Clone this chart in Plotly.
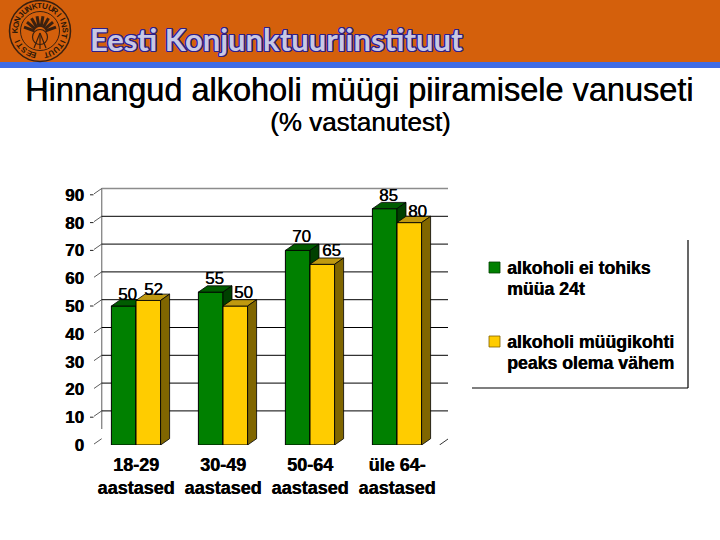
import math
import plotly.graph_objects as go

categories = ["18-29<br>aastased", "30-49<br>aastased", "50-64<br>aastased", "üle 64-<br>aastased"]
series_green = [50, 55, 70, 85]
series_yellow = [52, 50, 65, 80]
name_green = ["alkoholi ei tohiks", "müüa 24t"]
name_yellow = ["alkoholi müügikohti", "peaks olema vähem"]
y_ticks = [0, 10, 20, 30, 40, 50, 60, 70, 80, 90]
grid_values = [10, 20, 30, 40, 50, 60, 70, 80]
title_text = "Hinnangud alkoholi müügi piiramisele vanuseti"
subtitle_text = "(% vastanutest)"
header_text = "Eesti Konjunktuuriinstituut"
logo_text = "EESTI KONJUNKTUURIINSTITUUT"

W, H = 720, 540
X0, X1, Y0, Y1 = 90, 460, 445, 170      # plot box in px
PX_U, PX_C, C0 = 2.78, 87.0, 136.0      # px per value, px per category, first category px
BAR_W = 24.6 / PX_C
DX = 9.0 / PX_C
DY = 6.3 / PX_U
GREEN, GREEN_TOP, GREEN_SIDE = "#008000", "#005c00", "#004000"
YEL, YEL_TOP, YEL_SIDE = "#FFCC00", "#BF9910", "#806600"
FONT = "Liberation Sans"
EMB = "0.4px 0 0 #000"

xr = [(X0 - C0) / PX_C, (X1 - C0) / PX_C]
yr = [0, (Y0 - Y1) / PX_U]
xs = list(range(len(categories)))


def px(x):
    return x / W


def py(y):
    return 1 - y / H


def xval(p):
    return (p - C0) / PX_C


def faces(values, left, xa, ya, top, side):
    out = []
    for i, v in zip(xs, values):
        a, b = i + left, i + left + BAR_W
        out.append(go.Scatter(x=[a, a + DX, b + DX, b, a], y=[v, v + DY, v + DY, v, v],
                              fill="toself", fillcolor=top, mode="lines",
                              line=dict(color="#000", width=0.8), showlegend=False,
                              hoverinfo="skip", xaxis=xa, yaxis=ya))
        out.append(go.Scatter(x=[b, b + DX, b + DX, b, b], y=[0, DY, v + DY, v, 0],
                              fill="toself", fillcolor=side, mode="lines",
                              line=dict(color="#000", width=0.8), showlegend=False,
                              hoverinfo="skip", xaxis=xa, yaxis=ya))
    return out


fig = go.Figure()
fig.add_trace(go.Bar(x=xs, y=series_green, width=BAR_W, offset=-BAR_W, marker=dict(color=GREEN, line=dict(color="#000", width=1)),
                     name="green", showlegend=False))
for t in faces(series_green, -BAR_W, "x", "y", GREEN_TOP, GREEN_SIDE):
    fig.add_trace(t)
fig.add_trace(go.Bar(x=xs, y=series_yellow, width=BAR_W, offset=0, marker=dict(color=YEL, line=dict(color="#000", width=1)),
                     name="yellow", showlegend=False, xaxis="x2", yaxis="y2"))
for t in faces(series_yellow, 0, "x2", "y2", YEL_TOP, YEL_SIDE):
    fig.add_trace(t)

shapes = []
# header
shapes.append(dict(type="rect", xref="paper", yref="paper", x0=0, x1=1, y0=py(62), y1=1, fillcolor="#D4600C", line_width=0, layer="below"))
shapes.append(dict(type="rect", xref="paper", yref="paper", x0=0, x1=1, y0=py(68), y1=py(62), fillcolor="#3F6CE4", line_width=0, layer="below"))


def ring(cx, cy, r, color="#3a2010", w=1.2, fill="rgba(0,0,0,0)"):
    return dict(type="circle", xref="paper", yref="paper", x0=px(cx - r), x1=px(cx + r), y0=py(cy + r), y1=py(cy - r),
                line=dict(color=color, width=w), fillcolor=fill, layer="above")


def seg(x0, y0, x1, y1, color="#3a2010", w=1.0, ):
    return dict(type="line", xref="paper", yref="paper", x0=px(x0), x1=px(x1), y0=py(y0), y1=py(y1),
                line=dict(color=color, width=w), layer="above")


LX, LY = 40, 31
shapes += [ring(LX, LY, 30.5, w=1.5), ring(LX, LY, 19.5, w=1.0), ring(LX, LY + 6, 7.5, w=1.2)]
for ang in range(-70, 71, 20):
    a = math.radians(ang)
    shapes.append(seg(LX + 6 * math.sin(a), LY + 2 - 6 * math.cos(a), LX + 17 * math.sin(a), LY + 2 - 17 * math.cos(a), w=3.0))
shapes += [seg(LX, LY + 2, LX - 6, LY + 17, w=1.2), seg(LX, LY + 2, LX + 6, LY + 17, w=1.2), seg(LX, LY + 4, LX, LY + 18, w=1.2)]

# back wall
bx0, bx1 = xval(101.7), xval(448)
top90 = 90 + DY
shapes.append(dict(type="line", x0=bx0, x1=bx0, y0=3.5 + DY, y1=top90, line=dict(color="#8c8c8c", width=1.4), layer="below"))
shapes.append(dict(type="line", x0=bx0, x1=bx1, y0=top90, y1=top90, line=dict(color="#8c8c8c", width=1.4), layer="below"))
for v in grid_values:
    shapes.append(dict(type="line", x0=bx0, x1=bx1, y0=v + DY, y1=v + DY, line=dict(color="#000", width=1), layer="below"))
# slanted tick remnants beside the wall
for v in y_ticks:
    shapes.append(dict(type="line", x0=xval(94), x1=bx0, y0=v + DY * 0.15, y1=v + DY, line=dict(color="#333", width=0.8), layer="below"))
    if v in (10, 50, 70, 80, 90):
        shapes.append(dict(type="line", x0=xval(89.5), x1=xval(93.5), y0=v, y1=v, line=dict(color="#222", width=1), layer="below"))
# floor ticks
for i in xs[:-1]:
    m = i + 0.5
    shapes.append(dict(type="line", x0=m, x1=m, y0=-1.4, y1=0, line=dict(color="#333", width=1), layer="below"))
shapes.append(dict(type="line", x0=xval(439.5), x1=xval(448), y0=0, y1=DY * 0.95, line=dict(color="#333", width=1), layer="below"))

# legend frame
shapes.append(seg(688, 240, 688, 388, color="#000", w=1.2))
shapes.append(seg(472, 388, 688, 388, color="#000", w=1.2))
# legend swatches
shapes.append(dict(type="rect", xref="paper", yref="paper", x0=px(489), x1=px(500), y0=py(273), y1=py(262), fillcolor=GREEN, line=dict(color="#004000", width=0.8), layer="above"))
shapes.append(dict(type="rect", xref="paper", yref="paper", x0=px(489), x1=px(500), y0=py(347), y1=py(336), fillcolor=YEL, line=dict(color="#806000", width=0.8), layer="above"))

ann = []


def label(txt, x, y, size, bold=False, anchor="center", color="#000", fam=FONT, **kw):
    t = f"<b>{txt}</b>" if bold else txt
    ann.append(dict(text=t, xref="paper", yref="paper", x=px(x), y=py(y), xanchor=anchor, yanchor="middle", showarrow=False,
                    font=dict(size=size, color=color, family=fam, **kw.pop("font_kw", {})), align="left", **kw))


label(title_text, 359, 90, 32.5, font_kw=dict(shadow=EMB))
label(subtitle_text, 360, 122, 26, font_kw=dict(shadow=EMB))
shadow = ",".join(f"{a}px {b}px 0 #2c1f8c" for a, b in [(-1.3, 0), (1.3, 0), (0, -1.3), (0, 1.3), (-1, -1), (1, -1), (-1, 1), (1, 1)])
label(header_text, 276, 39, 31, bold=True, color="#C8C8E4", fam="Lato", font_kw=dict(shadow=shadow))

n = len(logo_text)
for k, ch in enumerate(logo_text):
    ang = 195 + k * (330 / (n - 1))
    a = math.radians(ang)
    cx = LX + 25 * math.sin(a)
    cy = LY - 25 * math.cos(a)
    ang_n = ang % 360
    label(ch, cx, cy, 8, bold=True, color="#2a1608", textangle=ang_n if ang_n <= 180 else ang_n - 360)

for j, line in enumerate(name_green):
    label(line, 505, 268 + 21 * j, 17.7, bold=True, anchor="left", font_kw=dict(shadow=EMB))
for j, line in enumerate(name_yellow):
    label(line, 505, 342 + 21 * j, 17.7, bold=True, anchor="left", font_kw=dict(shadow=EMB))

# data value labels (value + small pixel shift to sit as in the source chart)
shift_green = [(-8.5, 11.5), (-8.5, 14), (-8.5, 14), (-8.5, 13)]
shift_yellow = [(17.5, 11), (20.5, 14), (21, 14), (20, 11)]
for vals, shifts in ((series_green, shift_green), (series_yellow, shift_yellow)):
    for i, v, (sx, sy) in zip(xs, vals, shifts):
        ann.append(dict(text=str(v), x=i, y=v, xref="x", yref="y", xshift=sx, yshift=sy, showarrow=False,
                        font=dict(size=17, color="#000", family=FONT, shadow=EMB)))

fig.update_layout(
    width=W, height=H, margin=dict(l=0, r=0, t=0, b=0, autoexpand=False), autosize=False, showlegend=False,
    paper_bgcolor="#fff", plot_bgcolor="rgba(0,0,0,0)", barmode="overlay",
    shapes=shapes, annotations=ann,
    font=dict(family=FONT),
    xaxis=dict(domain=[px(X0), px(X1)], range=xr, tickmode="array", tickvals=xs, ticktext=[f"<b>{c.replace('<br>', '</b><br><b>')}</b>" for c in categories],
               showgrid=False, zeroline=False, showline=False, ticks="", tickfont=dict(size=18, color="#000", family=FONT, shadow=EMB), ticklabelstandoff=7, automargin=False),
    yaxis=dict(domain=[py(Y0), py(Y1)], range=yr, tickmode="array", tickvals=y_ticks, ticktext=[f"<b>{v}</b>" for v in y_ticks],
               showgrid=False, zeroline=False, showline=False, ticks="", tickfont=dict(size=17, color="#000", family=FONT, shadow=EMB), ticklabelstandoff=5, automargin=False),
    xaxis2=dict(domain=[px(X0), px(X1)], range=xr, overlaying="x", visible=False, anchor="y2"),
    yaxis2=dict(domain=[py(Y0), py(Y1)], range=yr, overlaying="y", visible=False, anchor="x2"),
)
fig.write_html("out.html", config=dict(displayModeBar=False),
               post_script="document.documentElement.style.margin='0';document.documentElement.style.overflow='hidden';document.body.style.margin='0';document.body.style.overflow='hidden';")
